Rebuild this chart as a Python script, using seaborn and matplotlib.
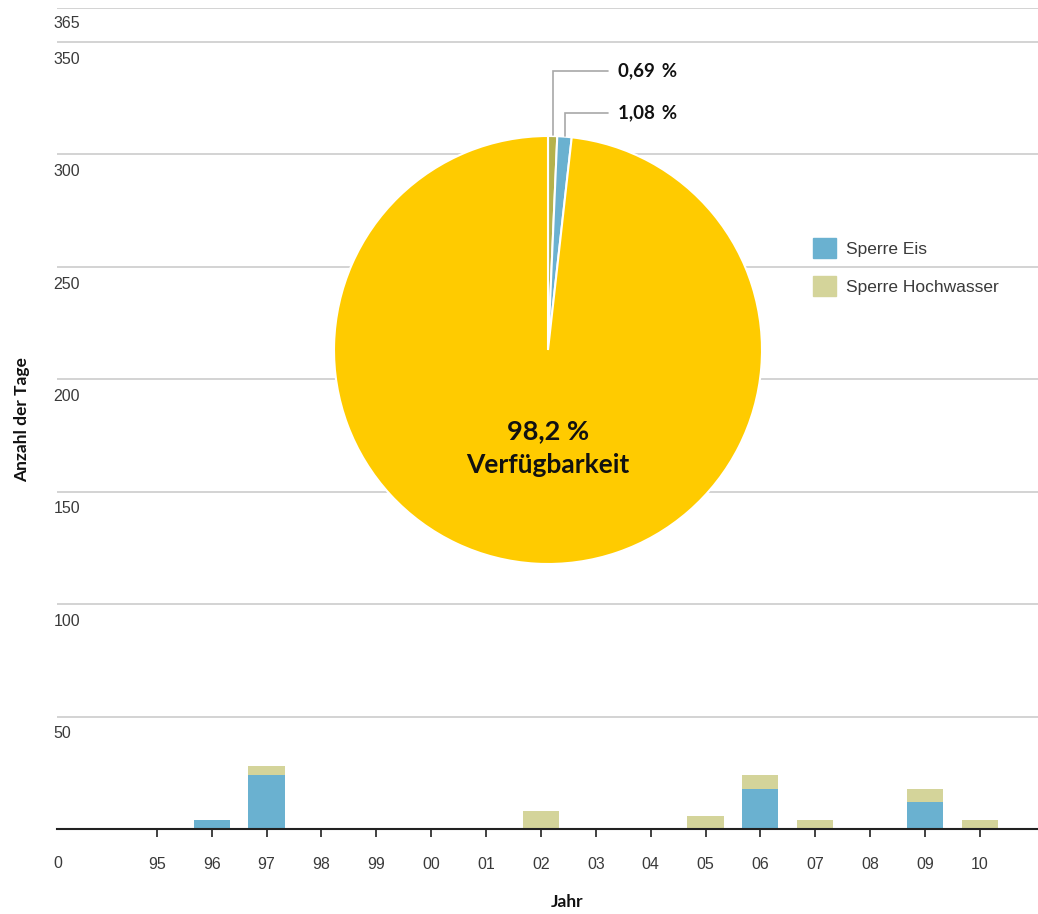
import matplotlib
matplotlib.use("Agg")
import matplotlib.pyplot as plt
import matplotlib.patches as mpatches
import seaborn as sns
import pandas as pd
import numpy as np

# ---- data ----
years = ["95", "96", "97", "98", "99", "00", "01", "02", "03", "04", "05", "06", "07", "08", "09", "10"]
sperre_eis = [0, 4, 24, 0, 0, 0, 0, 0, 0, 0, 0, 18, 0, 0, 12, 0]
sperre_hochwasser = [0, 0, 4, 0, 0, 0, 0, 8, 0, 0, 6, 6, 4, 0, 6, 4]
y_ticks = [0, 50, 100, 150, 200, 250, 300, 350, 365]

pie_labels = ["Sperre Hochwasser", "Sperre Eis", "Verfügbarkeit"]
pie_values = [0.69, 1.08, 98.23]
pie_texts = ["0,69 %", "1,08 %", "98,2 %"]

# ---- style ----
sns.set_theme(style="white")
plt.rcParams["font.family"] = ["Liberation Sans", "DejaVu Sans"]
bold_font = ["Lato", "Liberation Sans", "DejaVu Sans"]

c_eis = "#6AB1D0"
c_hoch = "#D4D49A"
c_hoch_pie = "#B5B24C"
c_yellow = "#FFCB00"
c_grid = "#CCCCCC"
c_text = "#3A3A3A"

df = pd.DataFrame({"Jahr": years, "Eis": sperre_eis, "Hochwasser": sperre_hochwasser})
df["Total"] = df["Eis"] + df["Hochwasser"]

fig = plt.figure(figsize=(10.38, 9.14), dpi=100)
W, H = 1038, 914
ax = fig.add_axes([57 / W, (H - 829) / H, (1038 - 57) / W, (829 - 8) / H])

sns.barplot(data=df, x="Jahr", y="Total", order=years, color=c_hoch, width=0.66,
            saturation=1, linewidth=0, ax=ax, zorder=3)
sns.barplot(data=df, x="Jahr", y="Eis", order=years, color=c_eis, width=0.66,
            saturation=1, linewidth=0, ax=ax, zorder=4)

ax.set_xlim(-1.82, 16.06)
ax.set_ylim(0, 365)
ax.set_yticks(y_ticks)
ax.set_yticklabels([])
ax.tick_params(axis="y", length=0)
for v in y_ticks[1:]:
    ax.axhline(v, color=c_grid, lw=1.2, zorder=1)
for v in y_ticks:
    off = -24.5 if v == 0 else (-11 if v == 365 else -12.5)
    ax.annotate(str(v), xy=(0, v), xycoords=("axes fraction", "data"),
                xytext=(-2.5, off), textcoords="offset points",
                ha="left", va="center", fontsize=11.5, color=c_text)

for s in ["top", "right", "left"]:
    ax.spines[s].set_visible(False)
ax.spines["bottom"].set_color("#222222")
ax.spines["bottom"].set_linewidth(1.5)
ax.spines["bottom"].set_zorder(10)
ax.tick_params(axis="x", bottom=True, length=6, width=1.3, color="#333333",
               labelsize=11.5, labelcolor=c_text, pad=14)
ax.set_xlabel("")
ax.set_ylabel("")

fig.text(567 / W, 1 - 902 / H, "Jahr", ha="center", va="center",
         fontsize=12.5, fontweight="bold", color="#111111", family=bold_font)
fig.text(22 / W, 1 - 420 / H, "Anzahl der Tage", ha="center", va="center",
         rotation=90, fontsize=12.5, fontweight="bold", color="#111111", family=bold_font)

# ---- pie ----
R = 214
pax = fig.add_axes([(548 - R) / W, (H - 350 - R) / H, 2 * R / W, 2 * R / H])
pax.pie(pie_values, colors=[c_hoch_pie, c_eis, c_yellow], startangle=90,
        counterclock=False, radius=1.0,
        wedgeprops=dict(edgecolor="white", linewidth=1.5))
pax.set_xlim(-1, 1)
pax.set_ylim(-1, 1)
pax.set_aspect("equal")
pax.axis("off")

# leader lines for the small slices
cum = 0.0
tot = sum(pie_values)
label_y = [(350 - 71) / R, (350 - 113) / R]
for i in range(2):
    a0 = 90 - cum / tot * 360
    a1 = 90 - (cum + pie_values[i]) / tot * 360
    cum += pie_values[i]
    am = np.deg2rad((a0 + a1) / 2)
    x0, y0 = np.cos(am), np.sin(am) + 0.005
    xe = (608 - 548) / R
    pax.plot([x0, x0, xe], [y0, label_y[i], label_y[i]], color="#A8A8A8",
             lw=1.2, clip_on=False, solid_joinstyle="miter")
    pax.text(xe + 0.045, label_y[i], pie_texts[i].replace(" ", "\u2009 "), ha="left",
             va="center", fontsize=13.5, fontweight="bold", color="#111111",
             clip_on=False, family=bold_font)

pax.text(0, -(431 - 350) / R, pie_texts[2], ha="center", va="center",
         fontsize=19.5, fontweight="bold", color="#111111", family=bold_font)
pax.text(0, -(465 - 350) / R, "Verfügbarkeit", ha="center", va="center",
         fontsize=19, fontweight="bold", color="#111111", family=bold_font)

# ---- legend ----
handles = [mpatches.Patch(color=c_eis, label="Sperre Eis"),
           mpatches.Patch(color=c_hoch, label="Sperre Hochwasser")]
fig.legend(handles=handles, loc="upper left", bbox_to_anchor=(797 / W, 1 - 222 / H),
           frameon=False, fontsize=12.5, handlelength=1.35, handleheight=1.45,
           handletextpad=0.55, labelspacing=1.0, labelcolor=c_text)

fig.savefig("out.png", dpi=100)
